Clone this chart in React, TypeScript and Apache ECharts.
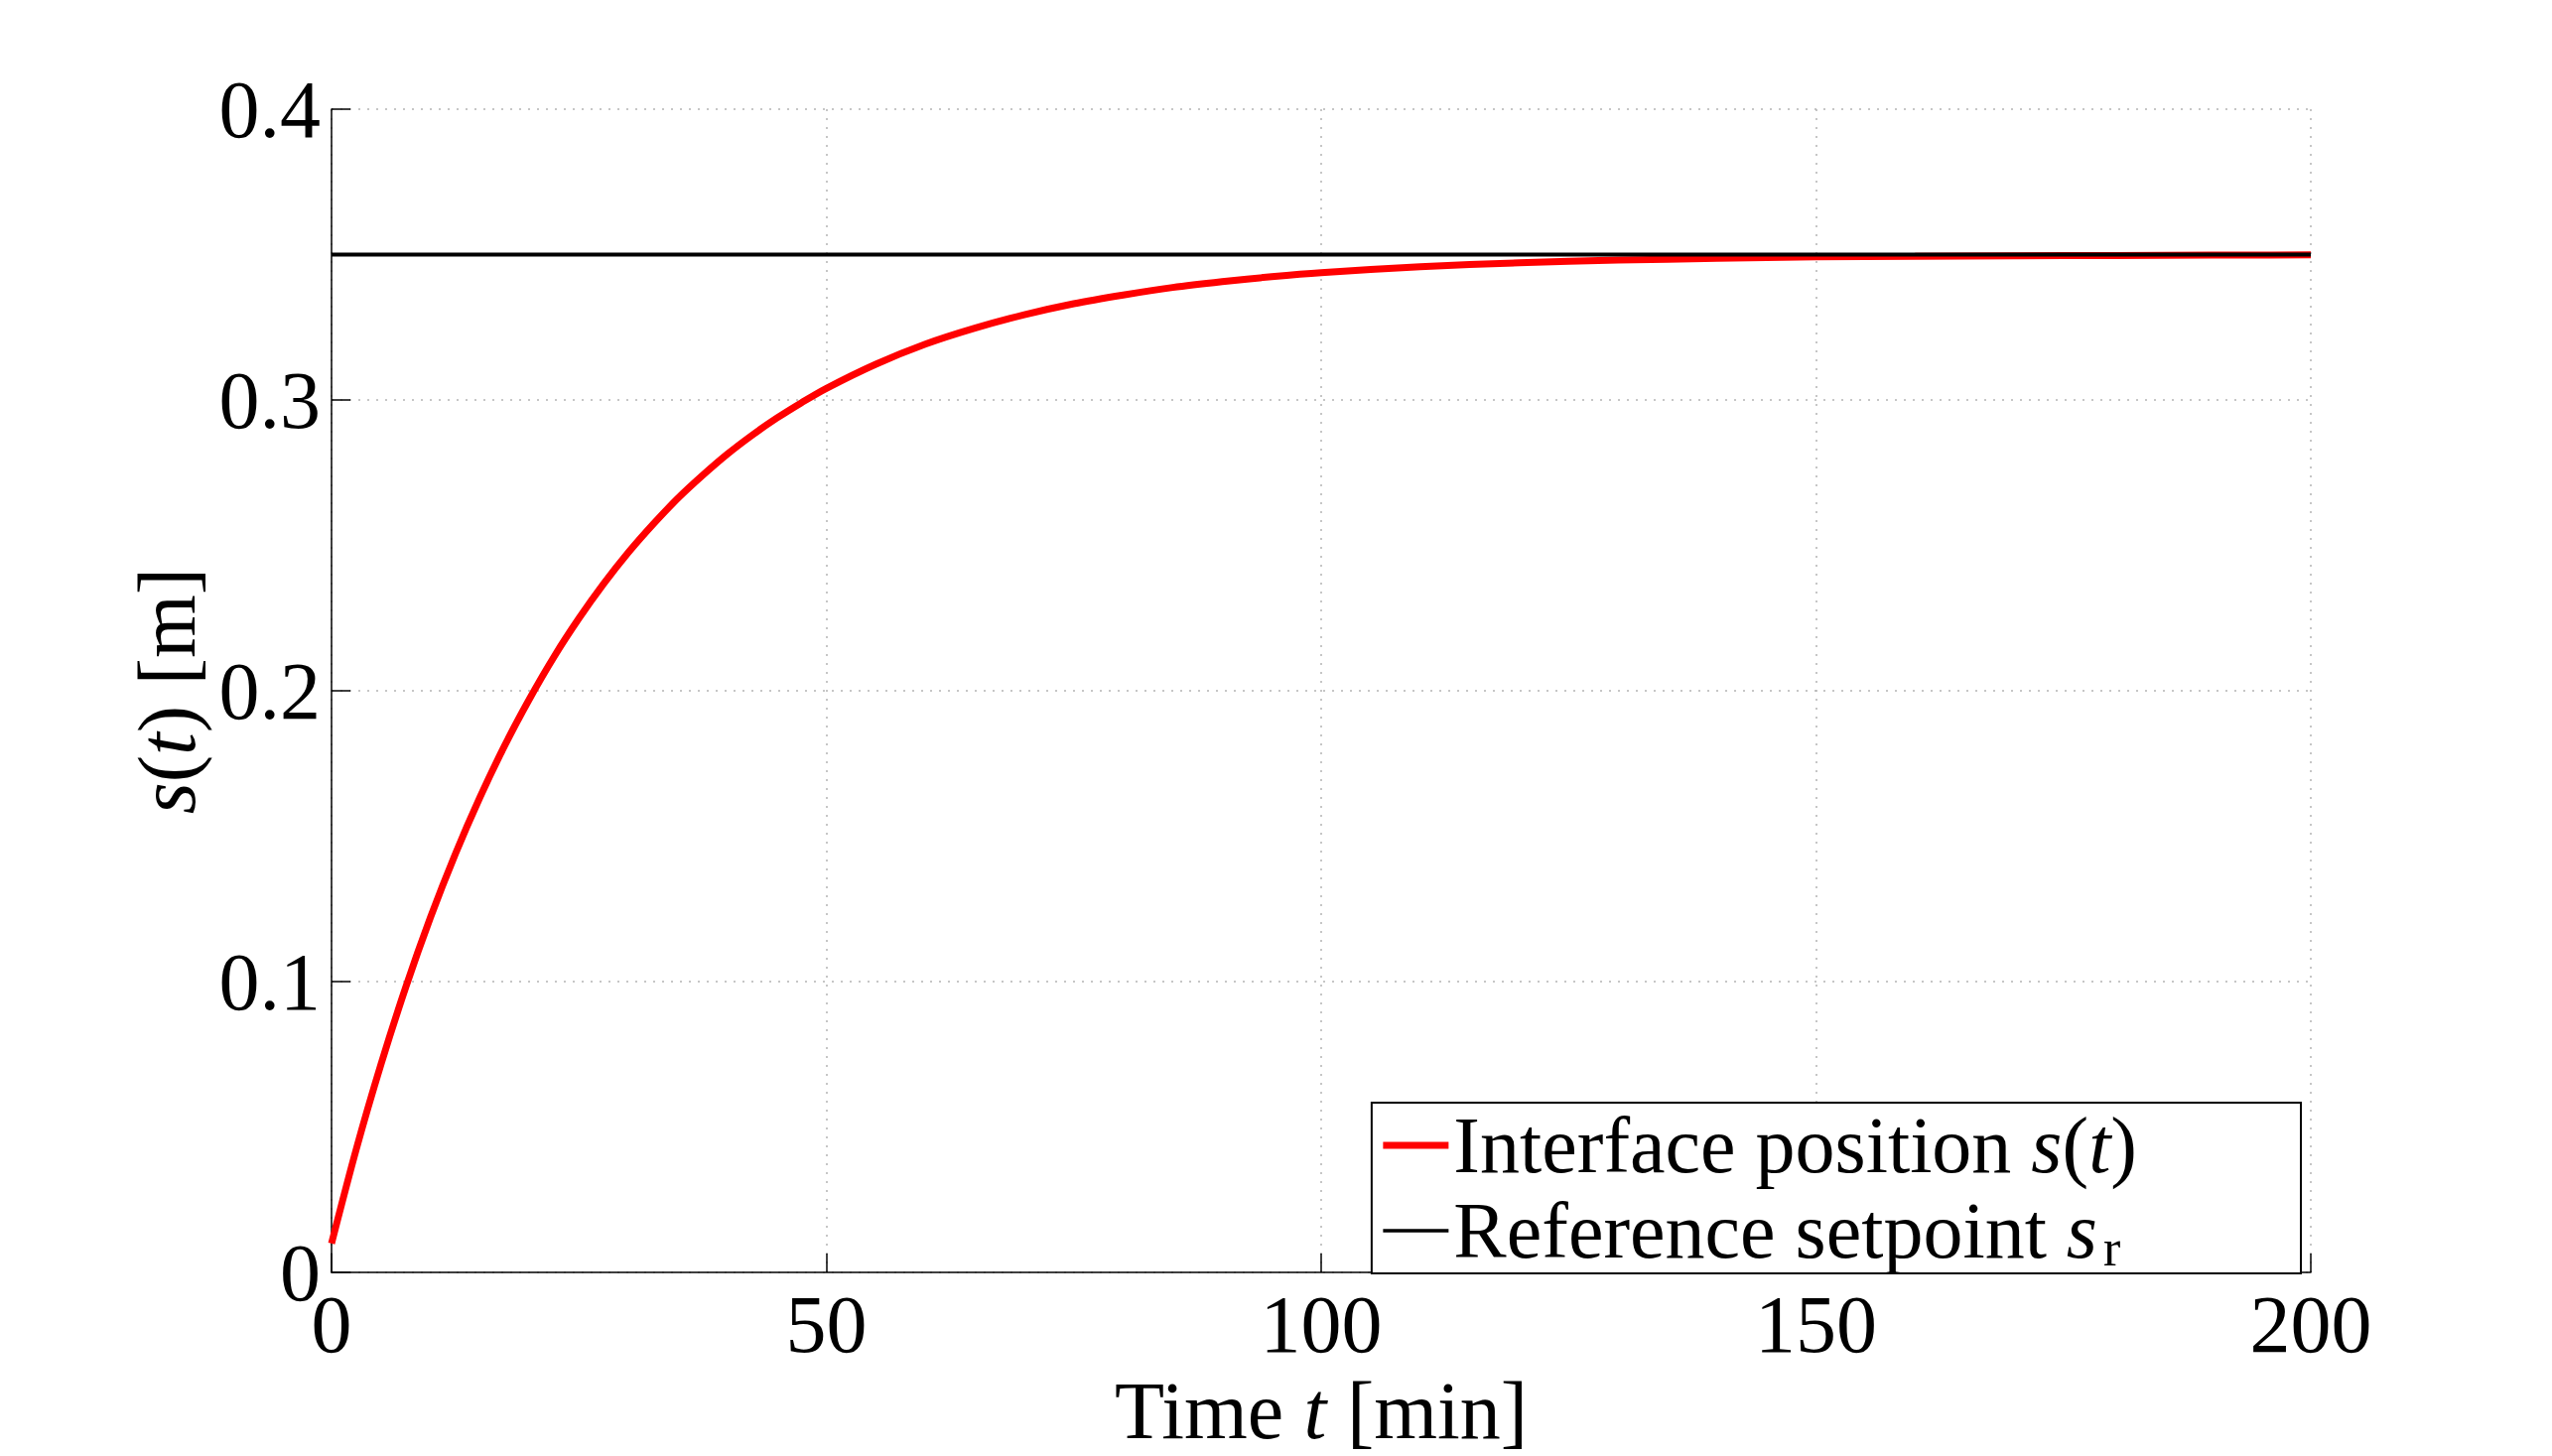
import React, { useEffect, useRef } from "react";
import * as echarts from "echarts";

const timeMin = [0, 2.5, 5, 7.5, 10, 12.5, 15, 17.5, 20, 22.5, 25, 27.5, 30, 32.5, 35, 37.5, 40, 42.5, 45, 47.5, 50, 55, 60, 65, 70, 75, 80, 85, 90, 95, 100, 110, 120, 130, 140, 150, 160, 170, 180, 190, 200];
const interfacePos = [0.0100, 0.0424, 0.0716, 0.0981, 0.1221, 0.1438, 0.1634, 0.1812, 0.1972, 0.2118, 0.2249, 0.2368, 0.2476, 0.2573, 0.2662, 0.2741, 0.2814, 0.2879, 0.2938, 0.2991, 0.3040, 0.3123, 0.3192, 0.3247, 0.3293, 0.3331, 0.3361, 0.3387, 0.3407, 0.3424, 0.3438, 0.3458, 0.3472, 0.3481, 0.3487, 0.3492, 0.3494, 0.3496, 0.3497, 0.3498, 0.3499];
const setpointTime = [0, 200];
const setpointValue = [0.35, 0.35];
const xTicks = [0, 50, 100, 150, 200];
const yTicks = [0, 0.1, 0.2, 0.3, 0.4];

const FONT = "'Liberation Serif', 'Times New Roman', serif";

export default function App() {
  const ref = useRef<HTMLDivElement>(null);
  useEffect(() => {
    if (!ref.current) return;
    const chart = echarts.init(ref.current, undefined, { renderer: "svg" });
    const italic = { fontStyle: "italic", fontFamily: FONT, fontSize: 82, color: "#000" };
    const axisCommon = {
      axisLine: { show: true, lineStyle: { color: "#000", width: 1.5 } },
      axisTick: { show: true, inside: true, length: 19, lineStyle: { color: "#000", width: 1.5 } },
      splitLine: { show: true, lineStyle: { color: "#b4b4b4", width: 1.5, type: [2, 7] } },
      axisLabel: { fontFamily: FONT, fontSize: 82, color: "#000" },
    };
    const option: any = {
      animation: false,
      backgroundColor: "#fff",
      grid: { left: 334, right: 243, top: 110, bottom: 175, containLabel: false },
      xAxis: {
        type: "value",
        min: xTicks[0],
        max: xTicks[xTicks.length - 1],
        interval: xTicks[1] - xTicks[0],
        ...axisCommon,
        axisLabel: { ...axisCommon.axisLabel, margin: 11 },
        name: "Time {i|t} [min]",
        nameLocation: "middle",
        nameGap: 80,
        nameTextStyle: { fontFamily: FONT, fontSize: 82, color: "#000", rich: { i: italic } },
      },
      yAxis: {
        type: "value",
        min: yTicks[0],
        max: yTicks[yTicks.length - 1],
        interval: yTicks[1] - yTicks[0],
        ...axisCommon,
        axisLabel: {
          ...axisCommon.axisLabel,
          margin: 11,
          formatter: (v: number) => (v === 0 ? "0" : v.toFixed(1)),
        },
        name: "{i|s}({i|t}) [m]",
        nameLocation: "middle",
        nameRotate: 90,
        nameGap: 108,
        nameTextStyle: { fontFamily: FONT, fontSize: 82, color: "#000", rich: { i: italic } },
      },
      legend: {
        orient: "vertical",
        right: 253,
        bottom: 184,
        padding: [0, 165, 0, 8],
        itemGap: 0,
        itemWidth: 66,
        itemHeight: 20,
        borderColor: "#000",
        borderWidth: 2,
        backgroundColor: "#fff",
        itemStyle: { opacity: 0 },
        textStyle: {
          fontFamily: FONT,
          fontSize: 80,
          lineHeight: 86,
          color: "#000",
          rich: {
            i: { fontStyle: "italic", fontFamily: FONT, fontSize: 80, lineHeight: 86, color: "#000" },
            sub: { fontFamily: FONT, fontSize: 52, lineHeight: 34, verticalAlign: "bottom", padding: [0, 0, 0, 6], color: "#000" },
          },
        },
        formatter: (name: string) =>
          name === "Interface position"
            ? "Interface position {i|s}({i|t})"
            : "Reference setpoint {i|s}{sub|r}",
        data: [
          { name: "Interface position", lineStyle: { color: "#ff0000", width: 7 } },
          { name: "Reference setpoint", lineStyle: { color: "#000", width: 3.5 } },
        ],
      },
      series: [
        {
          name: "Interface position",
          type: "line",
          data: timeMin.map((t, i) => [t, interfacePos[i]]),
          showSymbol: false,
          symbol: "none",
          smooth: 0.3,
          lineStyle: { color: "#ff0000", width: 7 },
          itemStyle: { color: "#ff0000" },
          z: 3,
        },
        {
          name: "Reference setpoint",
          type: "line",
          data: setpointTime.map((t, i) => [t, setpointValue[i]]),
          showSymbol: false,
          symbol: "none",
          lineStyle: { color: "#000", width: 4 },
          itemStyle: { color: "#000" },
          z: 4,
        },
      ],
    };
    chart.setOption(option);
    return () => chart.dispose();
  }, []);
  return (
    <div
      ref={ref}
      style={{ position: "absolute", left: 0, top: 0, width: 2571, height: 1467, background: "#fff" }}
    />
  );
}
